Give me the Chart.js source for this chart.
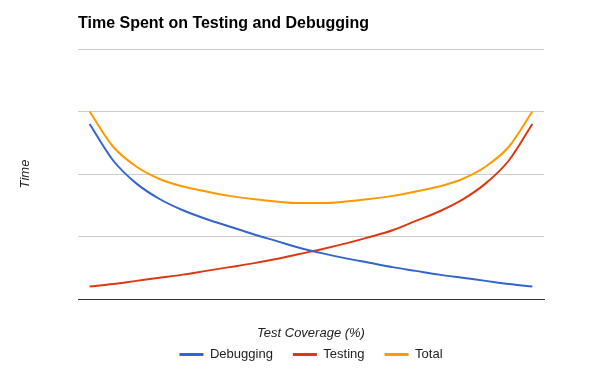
<!DOCTYPE html>
<html>
<head>
<meta charset="utf-8">
<script src="https://cdn.jsdelivr.net/npm/chart.js@4/dist/chart.umd.min.js"></script>
<style>
  html, body { margin: 0; padding: 0; background: #fff; }
  #wrap { width: 600px; height: 371px; }
</style>
</head>
<body>
<div id="wrap"><canvas id="chart" width="600" height="371"></canvas></div>
<script>
// --- 1. DATA ---
const COVERAGE = ['5', '10', '15', '20', '25', '30', '35', '40', '45', '50',
                  '55', '60', '65', '70', '75', '80', '85', '90', '95', '100'];
const DEBUGGING = [2.80, 2.22, 1.85, 1.60, 1.42, 1.28, 1.16, 1.04, 0.93, 0.82,
                   0.73, 0.65, 0.58, 0.51, 0.45, 0.39, 0.34, 0.29, 0.24, 0.20];
const TESTING = [0.20, 0.24, 0.29, 0.34, 0.39, 0.45, 0.51, 0.57, 0.64, 0.72,
                 0.80, 0.89, 0.99, 1.10, 1.25, 1.40, 1.59, 1.85, 2.22, 2.80];
const TOTAL = [3.00, 2.44, 2.12, 1.92, 1.80, 1.72, 1.65, 1.60, 1.56, 1.535,
               1.535, 1.56, 1.60, 1.65, 1.72, 1.80, 1.92, 2.12, 2.44, 3.00];

// --- 2. STYLE ---
const FONT = '"Liberation Sans", Arial, sans-serif';
const COLORS = ['#3366cc', '#dc3912', '#ff9900'];

Chart.defaults.font.family = FONT;
Chart.defaults.color = '#222';

function serie(label, data, color) {
     return {
          label: label,
          data: data,
          borderColor: color,
          backgroundColor: color,
          borderWidth: 2,
          pointRadius: 0,
          cubicInterpolationMode: 'monotone', // curva suave
          fill: false
     };
}

// --- 3. CHART ---
new Chart(document.getElementById('chart').getContext('2d'), {
     type: 'line',
     data: {
          labels: COVERAGE,
          datasets: [
               serie('Debugging', DEBUGGING, COLORS[0]),
               serie('Testing', TESTING, COLORS[1]),
               serie('Total', TOTAL, COLORS[2])
          ]
     },
     options: {
          responsive: false,
          animation: false,
          layout: { padding: { left: 0, right: 56, top: 0, bottom: 0 } },
          plugins: {
               tooltip: { enabled: false },
               title: {
                    display: true,
                    text: 'Time Spent on Testing and Debugging',
                    align: 'start',
                    fullSize: false,
                    color: '#000',
                    font: { size: 16, weight: 'bold' },
                    padding: { top: 14.4, bottom: 15.4 }
               },
               legend: {
                    position: 'bottom',
                    fullSize: false,
                    labels: {
                         usePointStyle: true,
                         pointStyle: 'line',
                         pointStyleWidth: 24,
                         padding: 20,
                         color: '#222',
                         font: { size: 13 },
                         generateLabels: function (chart) {
                              const items = Chart.defaults.plugins.legend.labels.generateLabels(chart);
                              items.forEach(function (it) { it.lineWidth = 3; });
                              return items;
                         }
                    }
               }
          },
          scales: {
               x: {
                    offset: true,
                    grid: { display: false },
                    border: { display: true, color: '#333', width: 1 },
                    ticks: { display: false },
                    title: {
                         display: true,
                         text: 'Test Coverage (%)',
                         color: '#222',
                         font: { size: 13, style: 'italic' },
                         padding: { top: 0, bottom: -13 }
                    },
                    afterFit: function (scale) { scale.height = 29; }
               },
               y: {
                    min: 0,
                    max: 4,
                    ticks: { display: false, stepSize: 1 },
                    grid: {
                         drawTicks: false,
                         color: function (ctx) {
                              return ctx.tick && ctx.tick.value === 0 ? '#333' : '#ccc';
                         }
                    },
                    border: { display: false },
                    title: {
                         display: true,
                         text: 'Time',
                         color: '#222',
                         font: { size: 13, style: 'italic' },
                         padding: { top: 18, bottom: 0 }
                    },
                    afterFit: function (scale) { scale.width = 78; }
               }
          }
     }
});
</script>
</body>
</html>
